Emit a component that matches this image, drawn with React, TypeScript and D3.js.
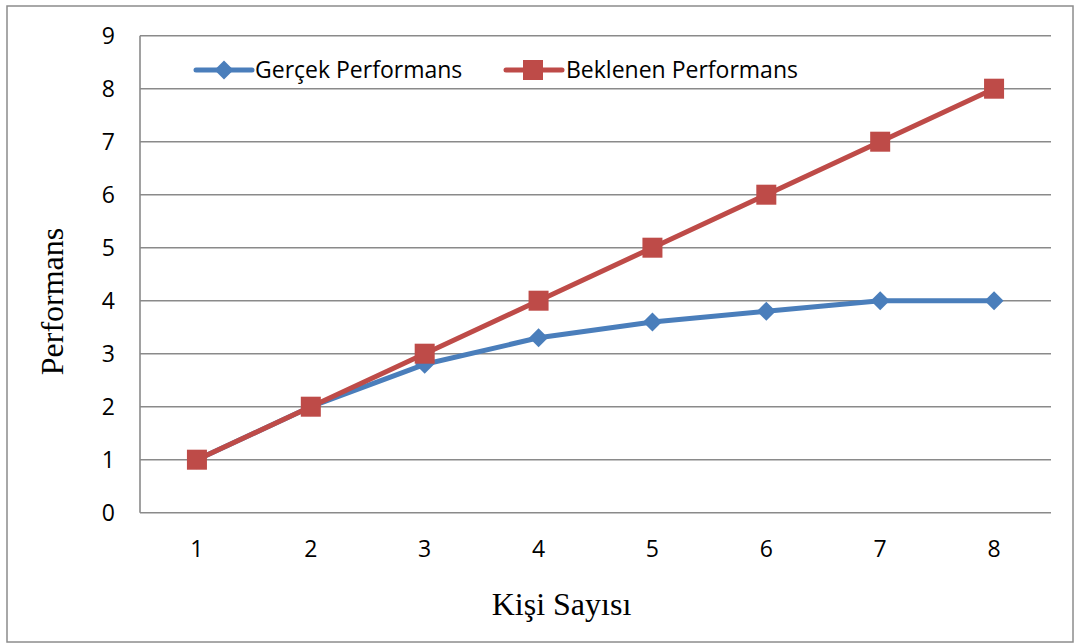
import React from "react";
import * as d3 from "d3";

const categories = [1, 2, 3, 4, 5, 6, 7, 8];
const gercek = [1, 2, 2.8, 3.3, 3.6, 3.8, 4, 4];
const beklenen = [1, 2, 3, 4, 5, 6, 7, 8];
const yTicks = [0, 1, 2, 3, 4, 5, 6, 7, 8, 9];
const seriesNames = ["Gerçek Performans", "Beklenen Performans"];

const W = 1075, H = 644;
const left = 140, right = 1051, top = 35.7, bottom = 512.7;
const BLUE = "#4a7ebb", RED = "#be4b48";
const FONT = "'Open Sans', sans-serif";
const FS = 23;
const SERIF = "'Liberation Serif', 'Times New Roman', serif";

export default function App() {
  const x = d3.scaleBand<number>().domain(categories).range([left, right]);
  const y = d3.scaleLinear().domain([0, 9]).range([bottom, top]);
  const cx = (c: number) => (x(c) as number) + x.bandwidth() / 2;
  const line = d3.line<number>().x((_, i) => cx(categories[i])).y((d) => y(d));
  const diamond = (px: number, py: number, r = 9.5) =>
    `M${px},${py - r}L${px + r},${py}L${px},${py + r}L${px - r},${py}Z`;
  return (
    <svg width={W} height={H} style={{ position: "absolute", left: 0, top: 0 }}>
      <rect x={0} y={0} width={W} height={H} fill="#fff" />
      <rect x={7} y={6} width={1066} height={636} fill="none" stroke="#8c8c8c" strokeWidth={1.5} />
      {yTicks.map((t) => (
        <g key={t}>
          {t > 0 && <line x1={left} x2={right} y1={y(t)} y2={y(t)} stroke="#8a8a8a" strokeWidth={1.6} />}
          <text x={115} y={y(t)} dy="0.36em" textAnchor="end" fontFamily={FONT} fontSize={FS} fill="#000">{t}</text>
        </g>
      ))}
      <line x1={left} x2={right} y1={bottom} y2={bottom} stroke="#8a8a8a" strokeWidth={1.6} />
      <line x1={left} x2={left} y1={top} y2={bottom} stroke="#8a8a8a" strokeWidth={1.6} />
      {categories.map((c) => (
        <text key={c} x={cx(c)} y={548.5} dy="0.36em" textAnchor="middle" fontFamily={FONT} fontSize={FS} fill="#000">{c}</text>
      ))}
      <path d={line(gercek) || ""} fill="none" stroke={BLUE} strokeWidth={5} strokeLinejoin="round" />
      {gercek.map((v, i) => (
        <path key={i} d={diamond(cx(categories[i]), y(v))} fill={BLUE} />
      ))}
      <path d={line(beklenen) || ""} fill="none" stroke={RED} strokeWidth={5} strokeLinejoin="round" />
      {beklenen.map((v, i) => (
        <rect key={i} x={cx(categories[i]) - 10} y={y(v) - 10} width={20} height={20} fill={RED} />
      ))}
      {/* legend */}
      <line x1={196} x2={252} y1={70} y2={70} stroke={BLUE} strokeWidth={5} strokeLinecap="round" />
      <path d={diamond(224, 70)} fill={BLUE} />
      <text x={255} y={70} dy="0.36em" fontFamily={FONT} fontSize={FS} fill="#000">{seriesNames[0]}</text>
      <line x1={506} x2={562} y1={70} y2={70} stroke={RED} strokeWidth={5} strokeLinecap="round" />
      <rect x={533 - 10} y={70 - 10} width={20} height={20} fill={RED} />
      <text x={566} y={70} dy="0.36em" fontFamily={FONT} fontSize={FS} fill="#000">{seriesNames[1]}</text>
      <text transform={`translate(63,301.5) rotate(-90)`} textAnchor="middle" fontFamily={SERIF} fontSize={32} fill="#000">Performans</text>
      <text x={561.5} y={615} textAnchor="middle" fontFamily={SERIF} fontSize={32} fill="#000">Kişi Sayısı</text>
    </svg>
  );
}
